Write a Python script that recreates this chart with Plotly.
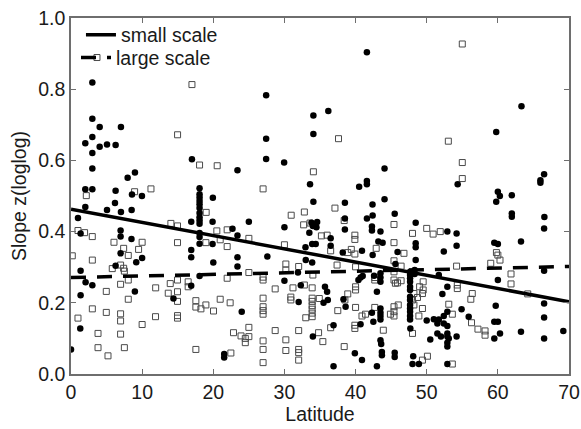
import plotly.graph_objects as go

# ---- data ----
# small scale (filled circles)
small_lat = [3.0, 3.0, 4.03, 7.02, 3.0, 2.01, 4.03, 5.06, 6.27, 3.0, 3.0, 2.01, 3.0, 6.27, 7.96, 8.99, 8.57, 9.97, 6.18, 2.01,
             5.06, 7.02, 8.52, 0.98,
             17.0, 18.07, 18.07, 18.07, 18.07, 18.07, 18.07, 18.07, 18.07, 18.07, 18.07, 18.07, 18.07, 18.07, 18.07,
             19.94, 23.4, 27.43, 27.43, 27.43, 29.96,
             1.35, 6.97, 6.97, 8.5, 6.97, 10.0, 9.17, 6.27, 1.35, 2.05, 3.0, 8.98, 1.35, 1.3, 0.0,
             16.9, 19.9, 22.7, 19.9, 16.9, 16.9, 20.0, 16.9, 14.4, 21.53, 21.53,
             25.0, 30.0, 33.8, 34.0, 33.5, 23.4, 33.9, 32.96, 23.4, 23.4, 27.6, 33.0, 33.9, 30.0, 32.3, 32.0, 24.0, 34.0, 31.9,
             41.59, 34.07, 36.17, 34.07, 44.07, 33.6, 41.59, 41.59, 40.5, 34.07, 38.5, 42.38, 44.07, 45.5, 42.4, 41.6, 38.5,
             63.32, 59.77, 54.35, 65.98, 65.98, 66.5, 60.0, 60.28, 61.96, 59.77, 61.96, 61.96, 66.54,
             34.6, 34.5, 42.3, 42.3, 38.5, 36.5, 34.4, 36.5, 43.5, 43.2, 43.8, 42.4, 40.9, 38.2, 45.6, 40.4, 40.7, 41.0, 42.6,
             43.5, 43.5, 43.5, 43.0, 35.7, 36.0, 35.5, 36.1, 38.3, 38.6, 42.3, 43.5, 43.5, 43.5, 43.5, 42.5, 40.7, 36.9,
             43.5, 43.6, 39.9, 43.7, 43.7, 45.5, 45.5, 40.9, 36.9, 43.0,
             48.45, 52.9, 54.2, 48.45, 48.45, 54.2, 45.9, 52.4, 48.45,
             47.66, 47.66, 47.66, 47.66, 47.66, 47.66, 47.66, 47.66, 47.66, 47.66, 47.66, 47.66, 47.66,
             48.3, 48.3, 51.7, 52.9, 52.2, 54.9, 50.0, 51.0, 51.5, 51.7, 52.4, 52.9, 52.4, 52.9, 55.9, 47.7, 50.5, 51.5,
             52.0, 52.9, 52.9, 53.1, 52.9, 52.9, 54.2, 48.1, 48.0, 48.9, 52.9,
             66.5, 63.25, 59.5, 60.0, 60.0, 66.5, 66.5, 59.7, 66.5, 59.5, 60.0, 60.3, 59.5, 63.25, 66.5, 69.2]
small_z = [0.819, 0.717, 0.694, 0.694, 0.666, 0.648, 0.638, 0.645, 0.643, 0.621, 0.577, 0.519, 0.519, 0.515, 0.551, 0.566, 0.504, 0.500, 0.480, 0.469,
           0.461, 0.455, 0.461, 0.438,
           0.603, 0.522, 0.505, 0.496, 0.486, 0.477, 0.466, 0.452, 0.440, 0.431, 0.422, 0.396, 0.385, 0.366, 0.275,
           0.495, 0.572, 0.783, 0.661, 0.604, 0.594,
           0.395, 0.403, 0.386, 0.379, 0.339, 0.326, 0.314, 0.304, 0.290, 0.258, 0.249, 0.232, 0.221, 0.128, 0.069,
           0.428, 0.428, 0.408, 0.365, 0.348, 0.328, 0.313, 0.248, 0.212, 0.056, 0.046,
           0.428, 0.412, 0.425, 0.416, 0.397, 0.389, 0.365, 0.356, 0.328, 0.302, 0.330, 0.320, 0.313, 0.262, 0.249, 0.202, 0.175, 0.105, 0.285,
           0.904, 0.726, 0.739, 0.674, 0.577, 0.533, 0.542, 0.533, 0.526, 0.484, 0.481, 0.476, 0.491, 0.450, 0.445, 0.437, 0.437,
           0.752, 0.680, 0.533, 0.544, 0.537, 0.561, 0.512, 0.500, 0.502, 0.484, 0.451, 0.442, 0.441,
           0.427, 0.412, 0.414, 0.403, 0.406, 0.381, 0.365, 0.360, 0.400, 0.372, 0.369, 0.334, 0.346, 0.341, 0.309, 0.264, 0.271, 0.275, 0.276,
           0.283, 0.271, 0.259, 0.231, 0.245, 0.231, 0.200, 0.208, 0.210, 0.189, 0.172, 0.184, 0.172, 0.163, 0.153, 0.147, 0.140, 0.137,
           0.095, 0.084, 0.058, 0.062, 0.053, 0.060, 0.048, 0.039, 0.022, 0.022,
           0.425, 0.400, 0.395, 0.367, 0.356, 0.360, 0.343, 0.344, 0.320,
           0.287, 0.278, 0.269, 0.259, 0.245, 0.236, 0.217, 0.208, 0.194, 0.184, 0.175, 0.163, 0.153,
           0.292, 0.281, 0.278, 0.245, 0.225, 0.182, 0.150, 0.154, 0.142, 0.153, 0.163, 0.175, 0.142, 0.135, 0.161, 0.128, 0.097, 0.114,
           0.105, 0.114, 0.105, 0.100, 0.088, 0.077, 0.105, 0.050, 0.028, 0.028, 0.028,
           0.409, 0.372, 0.369, 0.365, 0.264, 0.290, 0.198, 0.192, 0.159, 0.147, 0.147, 0.114, 0.100, 0.119, 0.100, 0.121]

# large scale (open squares)
large_lat = [3.65, 17.0, 14.98, 18.07, 20.55, 2.15, 8.94, 11.24, 27.0, 19.0, 30.95,
             55.0, 37.6, 53.04, 55.0, 34.07, 55.0, 32.8, 37.1,
             0.98, 1.91, 2.99, 6.04, 10.0, 7.4, 8.05, 9.5, 0.18, 3.0, 6.97, 7.4, 7.5, 5.8, 6.97, 8.05, 4.96, 8.05,
             3.0, 4.96, 6.97, 6.97, 0.98, 10.0, 3.8, 6.97, 3.8, 7.5, 5.2,
             14.04, 14.97, 20.5, 21.95, 14.97, 18.96, 20.97, 21.95, 11.9, 13.95, 14.97, 13.67, 14.97, 16.47, 16.47, 21.95,
             14.97, 17.55, 17.55, 18.26, 18.96, 20.03, 20.97, 22.37, 11.88, 14.97, 14.97, 22.84, 17.55, 22.47,
             32.7, 33.6, 25.0, 30.0, 30.2, 30.2, 32.0, 25.0, 27.0, 27.0, 32.8, 34.0, 28.7, 31.2, 33.9,
             27.0, 27.0, 27.0, 27.0, 30.9, 30.9, 33.9, 33.9, 33.9, 33.9, 33.9, 33.9, 33.0, 25.0,
             23.9, 24.5, 24.5, 25.0, 27.0, 27.0, 27.0, 28.7, 30.2, 30.2, 32.0, 32.0, 32.0, 32.0,
             38.4, 45.4, 35.2, 36.0, 39.9, 39.9, 45.4, 42.9, 36.5, 38.9, 39.4, 39.9, 37.4, 40.0, 45.4, 40.0, 40.0,
             42.7, 42.7, 45.4, 45.4, 45.6, 34.9, 38.9, 38.5, 37.5, 40.0, 42.7, 40.9, 41.4, 45.4, 45.4, 45.4, 44.9,
             39.9, 39.9, 43.9, 36.5, 34.8, 35.4, 38.4,
             48.0, 50.0, 50.9, 51.9, 46.8, 46.4, 54.2, 45.9, 46.4, 49.5, 49.5, 49.0, 49.4, 48.2, 48.7, 48.0, 48.2,
             54.3, 54.3, 56.4, 56.2, 46.0, 49.4, 53.1, 48.9, 53.6, 56.3, 57.2, 48.0, 50.1, 49.4, 53.6,
             59.8, 60.0, 60.3, 59.0, 61.85, 61.85, 64.2, 58.2, 58.2]
large_z = [0.889, 0.813, 0.672, 0.587, 0.585, 0.501, 0.512, 0.520, 0.520, 0.454, 0.446,
           0.927, 0.661, 0.654, 0.594, 0.568, 0.549, 0.455, 0.466,
           0.403, 0.397, 0.386, 0.370, 0.370, 0.353, 0.333, 0.350, 0.332, 0.320, 0.306, 0.297, 0.289, 0.296, 0.252, 0.264, 0.232, 0.210,
           0.183, 0.173, 0.169, 0.149, 0.157, 0.139, 0.114, 0.112, 0.074, 0.074, 0.051,
           0.423, 0.416, 0.402, 0.405, 0.369, 0.369, 0.377, 0.358, 0.242, 0.254, 0.264, 0.227, 0.231, 0.259, 0.245, 0.269,
           0.204, 0.206, 0.188, 0.183, 0.194, 0.177, 0.210, 0.200, 0.161, 0.164, 0.157, 0.116, 0.069, 0.059,
           0.419, 0.424, 0.381, 0.363, 0.309, 0.292, 0.302, 0.285, 0.272, 0.264, 0.250, 0.278, 0.239, 0.242, 0.242,
           0.213, 0.189, 0.178, 0.168, 0.216, 0.208, 0.213, 0.204, 0.192, 0.182, 0.171, 0.161, 0.158, 0.131,
           0.107, 0.100, 0.088, 0.105, 0.093, 0.069, 0.032, 0.122, 0.096, 0.066, 0.122, 0.069, 0.060, 0.039,
           0.431, 0.420, 0.388, 0.390, 0.390, 0.378, 0.369, 0.353, 0.346, 0.341, 0.350, 0.337, 0.306, 0.301, 0.318, 0.245, 0.236,
           0.271, 0.264, 0.287, 0.264, 0.255, 0.212, 0.225, 0.208, 0.178, 0.187, 0.187, 0.163, 0.168, 0.189, 0.175, 0.163, 0.168,
           0.137, 0.128, 0.123, 0.130, 0.116, 0.091, 0.077,
           0.395, 0.409, 0.393, 0.400, 0.339, 0.303, 0.303, 0.256, 0.262, 0.259, 0.236, 0.245, 0.226, 0.226, 0.215, 0.208, 0.194,
           0.240, 0.250, 0.226, 0.210, 0.194, 0.184, 0.196, 0.163, 0.168, 0.144, 0.126, 0.114, 0.050, 0.039, 0.028,
           0.341, 0.334, 0.320, 0.311, 0.281, 0.253, 0.225, 0.121, 0.109]

# regression lines (end points)
fit_lat = [0, 70]
fit_small = [0.463, 0.203]
fit_large = [0.271, 0.302]

x_ticks = [0, 10, 20, 30, 40, 50, 60, 70]
y_ticks = [0.0, 0.2, 0.4, 0.6, 0.8, 1.0]

FONT = "Liberation Sans, Arial, sans-serif"
AXIS_COLOR = "#6e6e6e"
FS = 19.5

fig = go.Figure()
fig.add_trace(go.Scatter(x=large_lat, y=large_z, mode="markers", showlegend=False,
                         marker=dict(symbol="square-open", size=6, color="#4a4a4a", line=dict(width=1))))
fig.add_trace(go.Scatter(x=small_lat, y=small_z, mode="markers", showlegend=False,
                         marker=dict(symbol="circle", size=6.5, color="black")))
fig.add_trace(go.Scatter(x=fit_lat, y=fit_small, mode="lines", name="small scale", legend="legend",
                         line=dict(color="black", width=3.5)))
fig.add_trace(go.Scatter(x=fit_lat, y=fit_large, mode="lines", name="large scale", legend="legend2",
                         line=dict(color="black", width=3.5, dash="15px,11px")))

legend_common = dict(xanchor="left", yanchor="middle", bgcolor="rgba(0,0,0,0)",
                     font=dict(size=FS, family=FONT, color="#1a1a1a"), itemwidth=30)

fig.update_layout(
    width=581, height=429,
    margin=dict(l=71, r=12, t=18, b=55, autoexpand=False),
    paper_bgcolor="white", plot_bgcolor="white",
    font=dict(family=FONT, size=FS, color="#1a1a1a"),
    legend=dict(x=0.020, y=0.952, **legend_common),
    legend2=dict(x=0.010, y=0.888, **legend_common),
    xaxis=dict(range=[0, 70], tickvals=x_ticks, ticks="inside", ticklen=5, tickcolor=AXIS_COLOR,
               showline=True, linecolor=AXIS_COLOR, linewidth=1.5, mirror="ticks", showgrid=False, zeroline=False,
               automargin=False, tickfont=dict(size=FS), ticklabeloverflow="allow",
               title=dict(text="Latitude", font=dict(size=FS), standoff=4)),
    yaxis=dict(range=[0, 1.0], tickvals=y_ticks, tickformat=".1f", ticks="inside", ticklen=5, tickcolor=AXIS_COLOR,
               showline=True, linecolor=AXIS_COLOR, linewidth=1.5, mirror="ticks", showgrid=False, zeroline=False,
               automargin=False, tickfont=dict(size=FS), ticklabeloverflow="allow",
               title=dict(text="Slope z(loglog)", font=dict(size=FS), standoff=6)),
)

# remove the page's default body margin so the figure fills the window exactly
fig.write_html("out.html", config={"displayModeBar": False},
               post_script="document.body.style.margin='0';document.body.style.overflow='hidden';")
